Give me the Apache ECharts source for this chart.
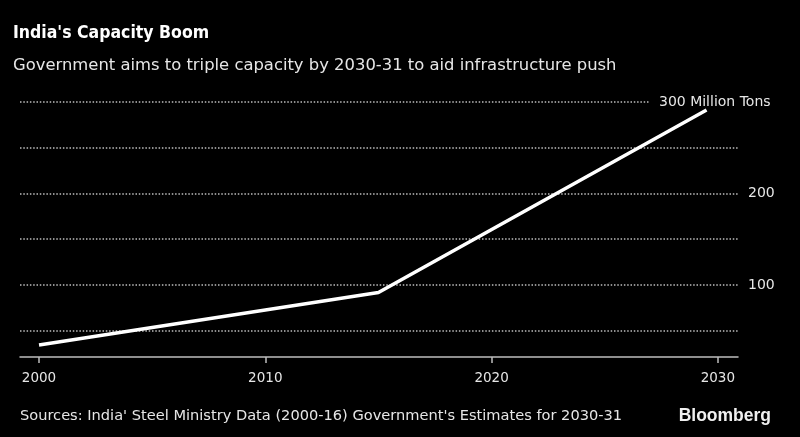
<!DOCTYPE html>
<html>
<head>
<meta charset="utf-8">
<script src="https://cdn.jsdelivr.net/npm/echarts@6/dist/echarts.min.js"></script>
<style>
html,body{margin:0;padding:0;background:#000;}
#chart{width:800px;height:437px;}
</style>
</head>
<body>
<div id="chart"></div>
<script>
// Data
const years = [2000, 2015, 2029.5];
const capacity = [34.4, 91.8, 291.3];
const xTickValues = [2000, 2010, 2020, 2030];
const yGridValues = [50, 100, 150, 200, 250, 300];
const yLabelText = {100: '100', 200: '200', 300: '300 Million Tons'};
const titleText = "India's Capacity Boom";
const subtitleText = 'Government aims to triple capacity by 2030-31 to aid infrastructure push';
const sourceText = "Sources: India' Steel Ministry Data (2000-16) Government's Estimates for 2030-31";
const brandText = 'Bloomberg';

const xMin = 1999.16, xMax = 2030.89;
const yMin = 21.3, yMax = 300;
const topLineEnd = 2027.0;

const gridColor = '#bdbdbd';
const textColor = '#e6e6e6';
const font = 'DejaVu Sans';

const markData = yGridValues.map(v => {
  const lbl = {
    show: !!yLabelText[v],
    formatter: yLabelText[v] || '',
    position: 'end',
    distance: v === 300 ? 9 : 10,
    color: textColor,
    fontFamily: font,
    fontSize: 14
  };
  if (v === 300) {
    return [{coord: [xMin, v]}, {coord: [topLineEnd, v], label: lbl}];
  }
  return {yAxis: v, label: lbl};
});

const chart = echarts.init(document.getElementById('chart'), null, {renderer: 'canvas'});
chart.setOption({
  backgroundColor: '#000',
  animation: false,
  title: [
    {text: titleText, left: 8, top: 19,
     textStyle: {color: '#fff', fontFamily: 'DejaVu Sans Condensed', fontWeight: 'bold', fontSize: 17.5}},
    {text: subtitleText, left: 8, top: 53,
     textStyle: {color: textColor, fontFamily: font, fontWeight: 'normal', fontSize: 16.4}},
    {text: sourceText, left: 15, top: 404,
     textStyle: {color: textColor, fontFamily: font, fontWeight: 'normal', fontSize: 14.6}},
    {text: brandText, right: 24, top: 402,
     textStyle: {color: '#f0f0f0', fontFamily: 'Liberation Sans', fontWeight: 'bold', fontSize: 17.5}}
  ],
  grid: {left: 20, right: 62, top: 102, bottom: 80, containLabel: false},
  xAxis: {
    type: 'value', min: xMin, max: xMax,
    axisLine: {show: true, lineStyle: {color: gridColor, width: 1.5}},
    axisTick: {show: true, length: 6, lineStyle: {color: gridColor, width: 1.5}, customValues: xTickValues},
    axisLabel: {color: textColor, fontFamily: font, fontSize: 13.5, margin: 14, customValues: xTickValues,
                formatter: v => String(Math.round(v))},
    splitLine: {show: false}
  },
  yAxis: {
    type: 'value', min: yMin, max: yMax,
    axisLine: {show: false}, axisTick: {show: false}, axisLabel: {show: false}, splitLine: {show: false}
  },
  series: [{
    type: 'line',
    data: years.map((y, i) => [y, capacity[i]]),
    symbol: 'none',
    lineStyle: {color: '#fff', width: 3.5},
    z: 5,
    markLine: {
      silent: true,
      symbol: ['none', 'none'],
      lineStyle: {color: gridColor, type: [1.5, 1.8], width: 1.5},
      data: markData,
      z: 1
    }
  }]
});
</script>
</body>
</html>
